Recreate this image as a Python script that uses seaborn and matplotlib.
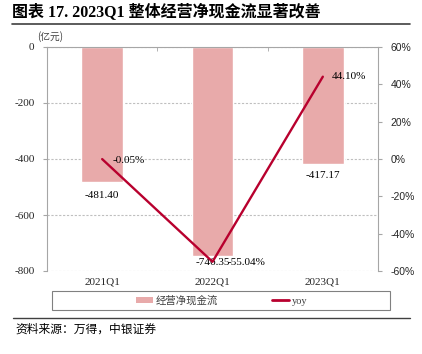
import numpy as np
import pandas as pd
import matplotlib
matplotlib.use("Agg")
import matplotlib.pyplot as plt
from matplotlib.lines import Line2D
from matplotlib.patches import Rectangle, Patch
from matplotlib.ticker import FuncFormatter
import seaborn as sns

quarters = ["2021Q1", "2022Q1", "2023Q1"]
cash_flow = [-481.40, -746.35, -417.17]
yoy = [-0.05, -55.04, 44.10]
left_ticks = [0, -200, -400, -600, -800]
right_ticks = [60, 40, 20, 0, -20, -40, -60]

sns.set_style("white")
SERIF = ["Liberation Serif", "Noto Sans CJK SC"]
SANS = ["Liberation Sans", "DejaVu Sans"]
CJK = ["Noto Sans CJK SC", "DejaVu Sans"]
plt.rcParams["font.family"] = SERIF

BAR = "#E8AAAA"
LINE = "#B8002E"
GRID = "#BFBFBF"
SPINE = "#A6A6A6"

W, H = 422, 354
fig = plt.figure(figsize=(W / 100, H / 100), dpi=100)
ax = fig.add_axes([47 / W, 1 - 271 / H, (378 - 47) / W, (271 - 47) / H])

df = pd.DataFrame({"q": quarters, "v": cash_flow})
sns.barplot(data=df, x="q", y="v", color=BAR, saturation=1, width=0.38, ax=ax, zorder=2)
ax.set_ylim(-800, 0)
ax.set_xlim(-0.5, 2.5)
ax.set_yticks(left_ticks)
ax.set_yticklabels([str(t) for t in left_ticks], fontsize=8, family=SERIF)
ax.set_xticks(range(len(quarters)))
ax.set_xticklabels(quarters, fontsize=8, family=SERIF)
ax.set_xlabel("")
ax.set_ylabel("")
ax.set_axisbelow(True)
ax.yaxis.grid(True, linestyle=(0, (2, 1.5)), color=GRID, lw=0.8)
ax.tick_params(axis="x", which="major", length=0, pad=5)
ax.tick_params(axis="y", length=3, color=SPINE, pad=6, direction="out", left=True)
ax.set_xticks([0.5, 1.5], minor=True)
ax.tick_params(axis="x", which="minor", top=True, bottom=False, length=3, color=SPINE, direction="in")
for s in ["bottom"]:
    ax.spines[s].set_visible(False)
ax.spines["top"].set_color(SPINE)
ax.spines["left"].set_color(SPINE)
ax.spines["right"].set_visible(False)
for s in ["top", "left"]:
    ax.spines[s].set_linewidth(0.8)

# bar labels
bar_offsets = [-14, -7, -12]
for i, (v, off) in enumerate(zip(cash_flow, bar_offsets)):
    ax.annotate(f"{v:.2f}", (i, v), xytext=(0, off), textcoords="offset pixels",
                ha="center", va="center", fontsize=8, family=SERIF, color="#000000")

ax2 = ax.twinx()
sns.lineplot(x=np.arange(len(yoy)), y=yoy, ax=ax2, color=LINE, lw=1.7, zorder=3)
ax2.set_ylim(-60, 60)
ax2.set_xlim(-0.5, 2.5)
ax2.set_yticks(right_ticks)
ax2.yaxis.set_major_formatter(FuncFormatter(lambda v, p: f"{int(v)}%"))
for lab in ax2.get_yticklabels():
    lab.set_fontsize(7.5)
    lab.set_family(SANS)
ax2.tick_params(axis="y", length=3, color=SPINE, pad=6, direction="out", right=True)
ax2.set_ylabel("")
for s in ["top", "left", "bottom"]:
    ax2.spines[s].set_visible(False)
ax2.spines["right"].set_color(SPINE)
ax2.spines["right"].set_linewidth(0.8)

yoy_offsets = [(10, -1), (15, -1), (9, 0)]
for i, (v, off) in enumerate(zip(yoy, yoy_offsets)):
    ax2.annotate(f"{v:.2f}%", (i, v), xytext=off, textcoords="offset pixels",
                 ha="left", va="center", fontsize=8, family=SERIF, color="#000000")

# unit label
fig.text(37 / W, 1 - 37 / H, "(亿元)", fontsize=7, family=CJK, color="#404040", ha="left", va="center")

# title
fig.text(12 / W, 1 - 12 / H, "图表 17. 2023Q1 整体经营净现金流显著改善", fontsize=11.5,
         family=SERIF, weight="bold", ha="left", va="center", color="#000000")
fig.add_artist(Line2D([12 / W, 410 / W], [1 - 24 / H, 1 - 24 / H], color="#404040", lw=1.2))

# legend
handles = [Patch(facecolor=BAR, edgecolor="none"), Line2D([], [], color=LINE, lw=2)]
leg = fig.legend(handles, ["经营净现金流", "yoy"], ncol=2, loc="center",
                 bbox_to_anchor=(222 / W, 1 - 300.5 / H), frameon=False,
                 prop={"family": SERIF, "size": 7.5}, columnspacing=5.2,
                 handlelength=1.6, handletextpad=0.3, handleheight=0.6)
for t in leg.get_texts():
    t.set_color("#404040")
fig.add_artist(Rectangle((52 / W, 1 - 310 / H), 338 / W, 19 / H, transform=fig.transFigure,
                         fill=False, edgecolor="#808080", lw=0.8))

# source
fig.add_artist(Line2D([13 / W, 410 / W], [1 - 318 / H, 1 - 318 / H], color="#404040", lw=1.0))
fig.text(15 / W, 1 - 329 / H, "资料来源：万得，中银证券", fontsize=8.5, family=CJK,
         style="italic", ha="left", va="center", color="#000000")

fig.savefig("out.png", dpi=100)
